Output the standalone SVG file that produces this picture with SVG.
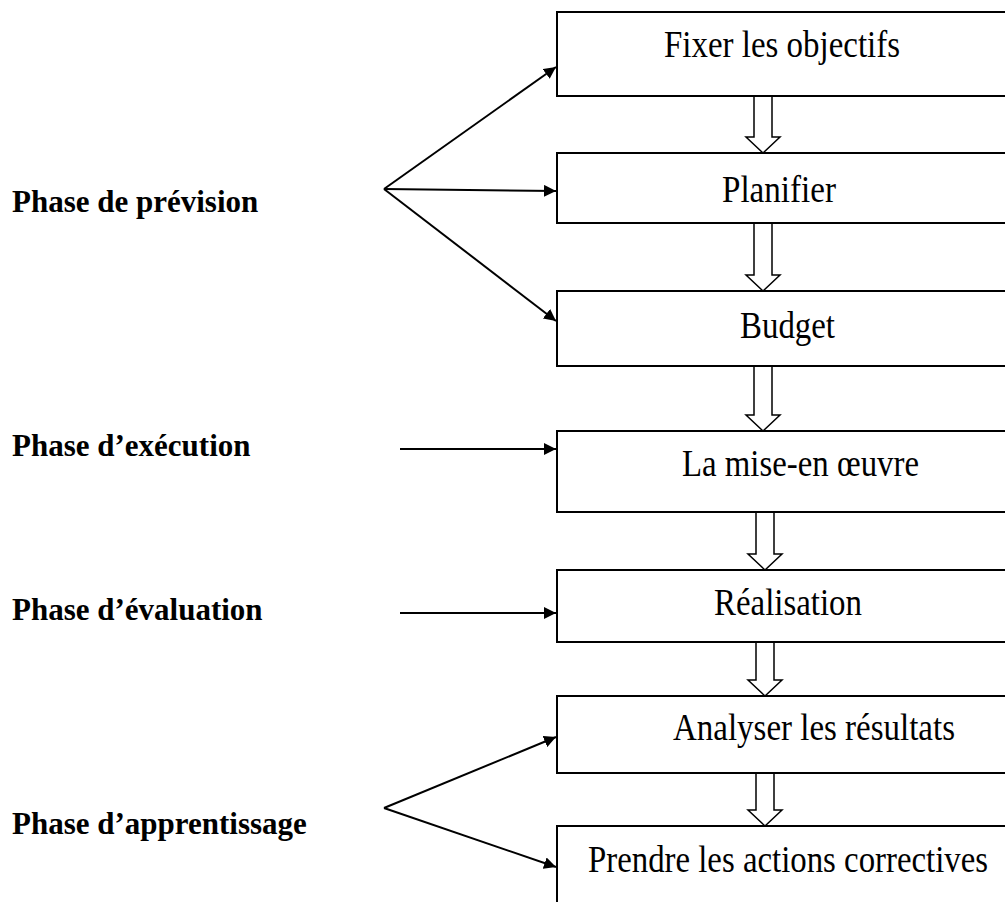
<svg xmlns="http://www.w3.org/2000/svg" width="1005" height="902" viewBox="0 0 1005 902">
  <defs>
    <style>
      .box { fill: #fff; stroke: #000; stroke-width: 2; }
      .box-text { font-family: "Liberation Serif", "Times New Roman", serif; font-size: 33px; fill: #000; }
      .phase { font-family: "Liberation Serif", "Times New Roman", serif; font-size: 31px; font-weight: bold; fill: #000; }
      .link { fill: none; stroke: #000; stroke-width: 2; }
      .step { fill: #fff; stroke: #000; stroke-width: 1.5; stroke-linejoin: miter; }
    </style>
    <marker id="head" viewBox="0 0 10 10" refX="10" refY="5" markerWidth="6" markerHeight="6" markerUnits="strokeWidth" orient="auto">
      <path d="M0,0 L10,5 L0,10 z" fill="#000"/>
    </marker>
  </defs>

  <rect width="1005" height="902" fill="#fff"/>

  <!-- phase labels -->
  <g id="phase-prevision"><text class="phase" x="12" y="212">Phase de prévision</text></g>
  <g id="phase-execution"><text class="phase" x="12" y="456">Phase d’exécution</text></g>
  <g id="phase-evaluation"><text class="phase" x="12" y="620">Phase d’évaluation</text></g>
  <g id="phase-apprentissage"><text class="phase" x="12" y="834">Phase d’apprentissage</text></g>

  <!-- process steps (step captions are slightly stretched vertically) -->
  <g id="step-objectifs">
    <rect class="box" x="557" y="12" width="460" height="84"/>
    <text class="box-text" transform="translate(664,57) scale(1,1.12)" textLength="236" lengthAdjust="spacingAndGlyphs">Fixer les objectifs</text>
  </g>
  <g id="step-planifier">
    <rect class="box" x="557" y="153" width="460" height="70"/>
    <text class="box-text" transform="translate(722,202) scale(1,1.12)" textLength="114" lengthAdjust="spacingAndGlyphs">Planifier</text>
  </g>
  <g id="step-budget">
    <rect class="box" x="557" y="291" width="460" height="75"/>
    <text class="box-text" transform="translate(740,338) scale(1,1.12)" textLength="95" lengthAdjust="spacingAndGlyphs">Budget</text>
  </g>
  <g id="step-mise-en-oeuvre">
    <rect class="box" x="557" y="431" width="460" height="81"/>
    <text class="box-text" transform="translate(682,476) scale(1,1.12)" textLength="237" lengthAdjust="spacingAndGlyphs">La mise-en œuvre</text>
  </g>
  <g id="step-realisation">
    <rect class="box" x="557" y="570" width="460" height="72"/>
    <text class="box-text" transform="translate(714,615) scale(1,1.12)" textLength="148" lengthAdjust="spacingAndGlyphs">Réalisation</text>
  </g>
  <g id="step-analyser">
    <rect class="box" x="557" y="696" width="460" height="77"/>
    <text class="box-text" transform="translate(673,740) scale(1,1.12)" textLength="282" lengthAdjust="spacingAndGlyphs">Analyser les résultats</text>
  </g>
  <g id="step-actions">
    <rect class="box" x="557" y="826" width="460" height="90"/>
    <text class="box-text" transform="translate(588,872) scale(1,1.12)" textLength="400" lengthAdjust="spacingAndGlyphs">Prendre les actions correctives</text>
  </g>

  <!-- connectors -->
  <g id="connectors">
    <!-- phase pointers -->
    <path class="link" d="M384,189 L556,67" marker-end="url(#head)"/>
    <path class="link" d="M384,189 L556,191" marker-end="url(#head)"/>
    <path class="link" d="M384,189 L556,321" marker-end="url(#head)"/>
    <path class="link" d="M400,449 L556,449" marker-end="url(#head)"/>
    <path class="link" d="M400,613 L556,613" marker-end="url(#head)"/>
    <path class="link" d="M384,808 L556,737" marker-end="url(#head)"/>
    <path class="link" d="M384,808 L556,867" marker-end="url(#head)"/>

    <!-- hollow block arrows between steps -->
    <path class="step" d="M754,97 V137 H746 L763,153 L780,137 H772 V97"/>
    <path class="step" d="M754,224 V275 H746 L763,291 L780,275 H772 V224"/>
    <path class="step" d="M754,367 V415 H746 L763,431 L780,415 H772 V367"/>
    <path class="step" d="M756,513 V554 H748 L765,570 L782,554 H774 V513"/>
    <path class="step" d="M756,643 V680 H748 L765,696 L782,680 H774 V643"/>
    <path class="step" d="M756,774 V810 H748 L765,826 L782,810 H774 V774"/>
  </g>
</svg>
